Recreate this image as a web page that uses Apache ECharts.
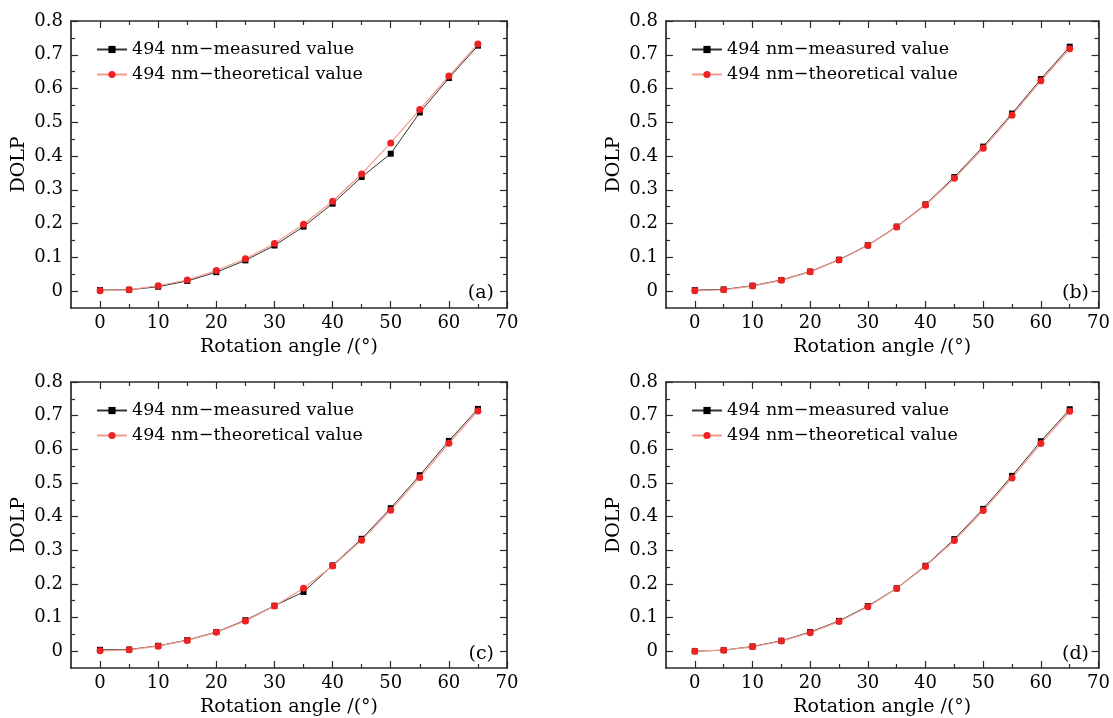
<!DOCTYPE html>
<html><head><meta charset="utf-8">
<script src="https://cdn.jsdelivr.net/npm/echarts@6/dist/echarts.min.js"></script>
<style>html,body{margin:0;padding:0;background:#fff}#c{width:1113px;height:718px}</style>
</head><body><div id="c"></div>
<script>
// ---- data ----
const angles = [0,5,10,15,20,25,30,35,40,45,50,55,60,65];
const xMajorTicks = [0,10,20,30,40,50,60,70];
const xMinorTicks = [5,15,25,35,45,55,65];
const yMajorTicks = [0,0.1,0.2,0.3,0.4,0.5,0.6,0.7,0.8];
const yMinorTicks = [0.05,0.15,0.25,0.35,0.45,0.55,0.65,0.75];
const seriesNames = ['494 nm\u2212measured value','494 nm\u2212theoretical value'];
const panelLabels = ['(a)','(b)','(c)','(d)'];
const xAxisName = 'Rotation angle /(\u00b0)';
const yAxisName = 'DOLP';

const aMeasured = [0.003,0.004,0.013,0.030,0.056,0.091,0.135,0.191,0.259,0.338,0.407,0.529,0.631,0.727];
const aTheory   = [0.001,0.004,0.016,0.033,0.061,0.096,0.141,0.198,0.266,0.347,0.439,0.538,0.637,0.732];
const bMeasured = [0.003,0.005,0.016,0.033,0.058,0.093,0.136,0.191,0.257,0.338,0.428,0.526,0.628,0.724];
const bTheory   = [0.001,0.004,0.015,0.032,0.057,0.092,0.135,0.190,0.255,0.334,0.423,0.521,0.623,0.718];
const cMeasured = [0.004,0.005,0.016,0.033,0.057,0.092,0.135,0.176,0.255,0.334,0.425,0.523,0.625,0.720];
const cTheory   = [0.001,0.004,0.015,0.032,0.056,0.090,0.134,0.187,0.253,0.330,0.419,0.516,0.618,0.714];
const dMeasured = [0.000,0.003,0.014,0.031,0.057,0.090,0.134,0.187,0.254,0.333,0.423,0.521,0.624,0.719];
const dTheory   = [0.000,0.003,0.013,0.030,0.055,0.088,0.132,0.186,0.252,0.329,0.418,0.515,0.617,0.713];

const panelData = [[aMeasured,aTheory],[bMeasured,bTheory],[cMeasured,cTheory],[dMeasured,dTheory]];

// ---- layout ----
const FONT = 'DejaVu Serif';
const grids = [
  {left:71, top:21, width:436, height:287},
  {left:666, top:21, width:436, height:287},
  {left:71, top:382, width:436, height:287},
  {left:666, top:382, width:436, height:287}
];
const lineCol = '#2a2a2a';

const option = {
  backgroundColor:'#fff',
  animation:false,
  grid: grids.map(g=>Object.assign({containLabel:false}, g)),
  xAxis:[], yAxis:[], series:[], legend:[], graphic:[]
};

function xAx(gi, pos, ticks, len, showLine, labels){
  const ax = {
    type:'value', gridIndex:gi, position:pos, min:-5, max:70,
    axisLine:{show:showLine, onZero:false, lineStyle:{color:lineCol, width:1.7}},
    axisTick:{show:true, inside:true, length:len, customValues:ticks, lineStyle:{color:lineCol, width:1.2}},
    axisLabel:{show:!!labels, customValues:xMajorTicks, margin:6, color:'#000', fontFamily:FONT, fontSize:18},
    splitLine:{show:false}
  };
  if(labels){
    ax.name = xAxisName; ax.nameLocation='middle'; ax.nameGap=30;
    ax.nameTextStyle={color:'#000', fontFamily:FONT, fontSize:19};
  }
  option.xAxis.push(ax);
  return option.xAxis.length-1;
}
function yAx(gi, pos, ticks, len, showLine, labels){
  const ax = {
    type:'value', gridIndex:gi, position:pos, min:-0.05, max:0.8,
    axisLine:{show:showLine, onZero:false, lineStyle:{color:lineCol, width:1.7}},
    axisTick:{show:true, inside:true, length:len, customValues:ticks, lineStyle:{color:lineCol, width:1.2}},
    axisLabel:{show:!!labels, customValues:yMajorTicks, margin:8, color:'#000', fontFamily:FONT, fontSize:18,
      formatter:v=>(Math.abs(v)<1e-9?'0':(Math.round(v*10)/10).toFixed(1))},
    splitLine:{show:false}
  };
  if(labels){
    ax.name = yAxisName; ax.nameLocation='middle'; ax.nameGap=42;
    ax.nameTextStyle={color:'#000', fontFamily:FONT, fontSize:19};
  }
  option.yAxis.push(ax);
  return option.yAxis.length-1;
}

grids.forEach((g,gi)=>{
  const xi = xAx(gi,'bottom',xMajorTicks,7,true,true);
  xAx(gi,'bottom',xMinorTicks,4,false,false);
  xAx(gi,'top',xMajorTicks,7,true,false);
  xAx(gi,'top',xMinorTicks,4,false,false);
  const yi = yAx(gi,'left',yMajorTicks,7,true,true);
  yAx(gi,'left',yMinorTicks,4,false,false);
  yAx(gi,'right',yMajorTicks,7,true,false);
  yAx(gi,'right',yMinorTicks,4,false,false);

  const [meas, theo] = panelData[gi];
  option.series.push({
    name:seriesNames[0], type:'line', xAxisIndex:xi, yAxisIndex:yi,
    data:angles.map((a,i)=>[a,meas[i]]),
    symbol:'rect', symbolSize:6, z:2,
    itemStyle:{color:'#000'}, lineStyle:{color:'#333', width:1}
  });
  option.series.push({
    name:seriesNames[1], type:'line', xAxisIndex:xi, yAxisIndex:yi,
    data:angles.map((a,i)=>[a,theo[i]]),
    symbol:'circle', symbolSize:7, z:3,
    itemStyle:{color:'#ee2222'}, lineStyle:{color:'#f29a8c', width:1.2}
  });

  option.legend.push({
    data:seriesNames, orient:'vertical', left:g.left+25, top:g.top+19, padding:0,
    itemWidth:30, itemHeight:9, itemGap:6, selectedMode:false,
    textStyle:{color:'#000', fontFamily:FONT, fontSize:17.5, lineHeight:19}
  });

  option.graphic.push({
    type:'text', x:g.left+g.width-13, y:g.top+272,
    style:{text:panelLabels[gi], fill:'#000', font:'19px "DejaVu Serif"', textAlign:'right', textVerticalAlign:'middle'}
  });
});

const chart = echarts.init(document.getElementById('c'), null, {renderer:'canvas'});
chart.setOption(option);
</script>
</body></html>
